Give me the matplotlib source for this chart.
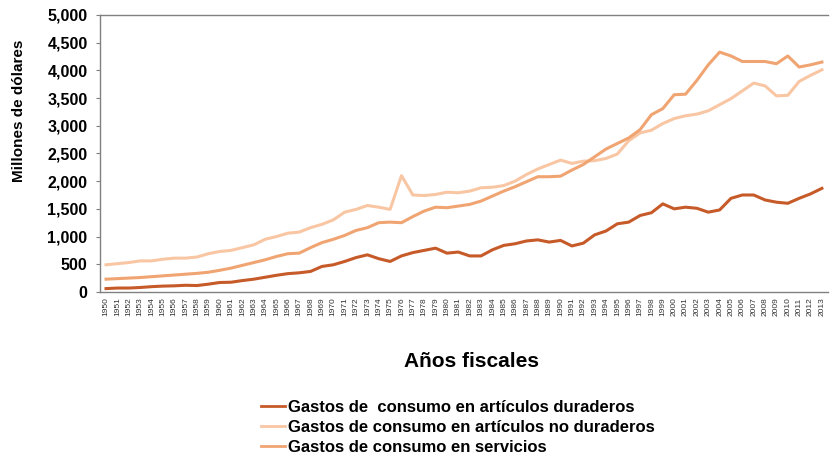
import matplotlib.pyplot as plt
from matplotlib.ticker import FuncFormatter

plt.rcParams['font.family'] = ['Liberation Sans', 'DejaVu Sans']

years = list(range(1950, 2014))

duraderos = [60, 70, 70, 80, 95, 105, 110, 120, 115, 140,
             170, 175, 205, 230, 265, 300, 330, 345, 370, 460,
             490, 550, 620, 670, 600, 550, 650, 710, 750, 790,
             700, 720, 650, 650, 760, 840, 870, 920, 940, 900,
             930, 830, 880, 1030, 1100, 1230, 1260, 1380, 1430, 1590,
             1500, 1530, 1510, 1440, 1480, 1690, 1750, 1750, 1660, 1620,
             1600, 1690, 1770, 1870]

no_duraderos = [490, 510, 530, 560, 560, 590, 610, 610, 630, 690,
                730, 750, 800, 850, 950, 1000, 1060, 1080, 1160, 1220,
                1300, 1440, 1490, 1560, 1530, 1490, 2100, 1750, 1740, 1760,
                1800, 1790, 1820, 1880, 1890, 1920, 2000, 2120, 2220, 2300,
                2380, 2320, 2360, 2370, 2410, 2490, 2730, 2870, 2920, 3040,
                3130, 3180, 3210, 3270, 3380, 3490, 3630, 3770, 3720, 3540,
                3550, 3800, 3910, 4010]

servicios = [230, 240, 250, 260, 275, 290, 305, 320, 335, 355,
             390, 430, 480, 530, 580, 640, 690, 700, 800, 890,
             950, 1020, 1110, 1160, 1250, 1260, 1250, 1360, 1460, 1530,
             1520, 1550, 1580, 1640, 1730, 1820, 1900, 1990, 2080, 2080,
             2090, 2200, 2300, 2440, 2580, 2680, 2780, 2930, 3200, 3310,
             3560, 3570, 3820, 4100, 4330, 4260, 4160, 4160, 4160, 4120,
             4260, 4060, 4100, 4150]

labels = ["Gastos de  consumo en artículos duraderos",
          "Gastos de consumo en artículos no duraderos",
          "Gastos de consumo en servicios"]

fig = plt.figure(figsize=(8.3, 4.54), dpi=100)
ax = fig.add_axes([0.1205, 0.357, 0.877, 0.610])

ax.plot(years, duraderos, color='#C65A28', lw=2.2, label=labels[0])
ax.plot(years, no_duraderos, color='#F9C6A4', lw=2.2, label=labels[1])
ax.plot(years, servicios, color='#F0A472', lw=2.2, label=labels[2])

ax.set_xlim(1949.47, 2013.53)
ax.set_ylim(0, 5000)
ax.set_yticks(range(0, 5001, 500))
ax.yaxis.set_major_formatter(FuncFormatter(lambda v, p: f"{int(v):,}"))
ax.set_xticks(years)
ax.set_xticklabels([str(y) for y in years], rotation=90, fontsize=6, color='#333333')
for t in ax.get_yticklabels():
    t.set_fontweight('bold')
    t.set_fontsize(11.5)

ax.tick_params(axis='y', length=3, color='#808080', pad=6)
ax.tick_params(axis='x', length=0, pad=4)

for s in ['left', 'bottom', 'top']:
    ax.spines[s].set_color('#808080')
    ax.spines[s].set_linewidth(1)
ax.spines['right'].set_visible(False)

ax.set_ylabel("Millones de dólares", fontsize=11, fontweight='bold')
ax.yaxis.set_label_coords(-0.102, 0.653)
ax.set_xlabel("Años fiscales", fontsize=15, fontweight='bold', labelpad=26)
ax.xaxis.label.set_x(0.511)

leg = fig.legend(loc='upper left', bbox_to_anchor=(0.307, 0.133), frameon=False,
                 fontsize=12, handlelength=1.4, handletextpad=0.2,
                 labelspacing=0.3, borderaxespad=0)
for t in leg.get_texts():
    t.set_fontweight('bold')
for h in leg.get_lines():
    h.set_linewidth(2)

fig.savefig("out.png", dpi=100)
